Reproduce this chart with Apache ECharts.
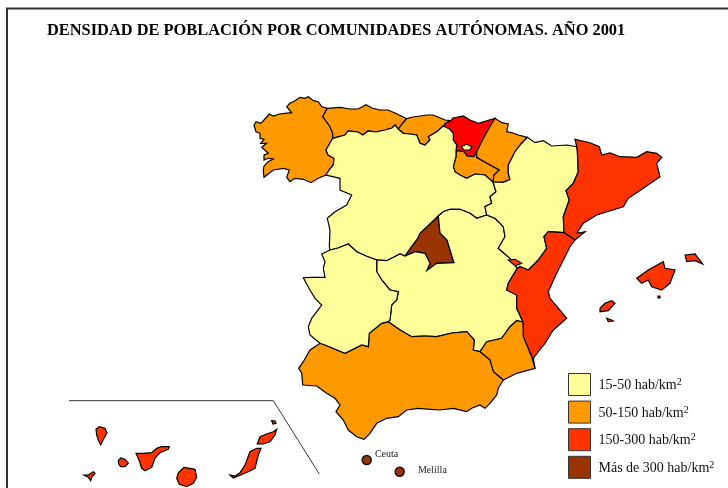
<!DOCTYPE html>
<html>
<head>
<meta charset="utf-8">
<title>Densidad de población</title>
<style>
html, body { margin: 0; padding: 0; background: #fff; }
#chart { width: 728px; height: 488px; }
</style>
<script src="https://cdn.jsdelivr.net/npm/echarts@6/dist/echarts.min.js"></script>
</head>
<body>
<div id="chart"></div>
<script>
// densidad 2001 por comunidad (hab/km2), leida por clase del mapa
var regionNames = ['Galicia', 'Asturias', 'Cantabria', 'País Vasco', 'La Rioja', 'Navarra', 'Castilla y León', 'Madrid',
  'Castilla-La Mancha', 'Aragón', 'Cataluña', 'C. Valenciana', 'Murcia', 'Andalucía', 'Extremadura', 'Baleares', 'Canarias']
var regionDensity = [92, 100, 100, 286, 55, 53, 26, 680, 22, 25, 197, 178, 105, 84, 26, 168, 233]
var classLabels = ['15-50 hab/km', '50-150 hab/km', '150-300 hab/km', 'Más de 300 hab/km']
var classColors = ['#ffff99', '#ff9900', '#ff3300', '#993300']
var cityNames = ['Ceuta', 'Melilla']
var cityPoints = [[366.7, 460, 3400], [399.7, 471.7, 5000]]
var insetLine = [[69, 400.7], [273.3, 400.7], [319.3, 474]]

// contornos en coordenadas del mapa, fronteras compartidas entre comunidades
var galCoast = [[264,177.3],[263.3,170],[264,166],[268.3,161.7],[273.3,159],[268.3,158.3],[264,160],[264,155],[268.3,153.3],[261.7,147.3],[266.7,143.3],[260.7,143.3],[264,139.3],[260,138.3],[260,133.3],[256,131.7],[254,125],[256,121.7],[260.7,123.3],[264,120],[269.3,114],[273.3,116],[279.3,114],[285,113.3],[291.7,112.7],[286.7,106.7],[290,103.3],[295,100.7],[300,97.3],[305,98.3],[308.3,96.7],[313.3,100.7],[318.3,101.7],[321.7,106.7],[327.3,108.3]]
var bGalAst = [[327.3,108.3],[322.7,116.7],[326,121],[330,126.7],[332.7,133.3],[332.7,138.3]]
var bGalCyl = [[332.7,138.3],[326,150],[328,155],[334,158.3],[333.3,165],[329,170],[326,175]]
var galSouth = [[326,175],[318.3,178.3],[311,182.7],[303.3,179.3],[295,178.3],[290,181.7],[286.7,177.3],[289.3,170],[283.3,168.3],[273.3,170],[264,177.3]]
var astCoast = [[327.3,108.3],[340,107.3],[350,109],[358,109],[362,107],[366,104.7],[372,108],[380,110],[388,110],[395,113],[406.7,118.7]]
var bAstCan = [[406.7,118.7],[403,123],[398.3,129]]
var bAstCyl = [[332.7,138.3],[345,135],[348,131],[358,132],[363,135],[368,131],[376,132],[385,130],[392,128],[395,125],[398.3,129]]
var canCoast = [[406.7,118.7],[413,117],[420,116],[427,115],[433,115],[438,117],[445,120],[450.7,120.7]]
var bCanPv = [[450.7,120.7],[446,123],[443.3,126]]
var bCanCyl = [[443.3,126],[436.7,131.7],[428.3,136.7],[430,140],[425,145],[420,143.3],[416.7,135],[410,134],[403.3,133.3],[398.3,129]]
var pvCoast = [[450.7,120.7],[453,118],[458,117],[463.3,116],[470,120],[478.3,123.3],[486,121],[495,118.3]]
var bPvNav = [[495,118.3],[488,130],[481.7,141.7],[476.7,151.7]]
var bPvRio = [[476.7,151.7],[474,156.7],[467,156],[464,151.7],[456,150.7]]
var bPvCyl = [[456,150.7],[456.7,145],[453.3,140],[453.3,133.3],[450,129.3],[443.3,126]]
var bNavRio = [[476.7,151.7],[476.7,157.3],[487,163.3],[499.3,170],[494,175],[493,182]]
var bRioCyl = [[493,182],[485,175],[475,174],[466.7,178.3],[460,175],[455,171.7],[453.3,166.7],[456,156.7],[456,150.7]]
var navCoast = [[495,118.3],[501.7,122.7],[508.3,124],[506.7,131.7],[513,133],[518.3,135],[527.3,137.3]]
var bNavAra = [[527.3,137.3],[521,144],[515,151.7],[508.3,165],[508.3,173.3],[510,179.3],[503.3,182.3],[493,182]]
var bCylAra = [[493,182],[496,191.7],[490,196.7],[491.7,203.3],[485,206.7],[486.7,215]]
var bCylCla1 = [[486.7,215],[476.7,218.3],[470,213.3],[460,209.3],[450,209.3],[443.3,211.7],[438.3,216]]
var bCylMad = [[438.3,216],[428,226],[420,233.3],[418,238.3],[411.7,246.7],[405,256]]
var bMadCla = [[438.3,216],[440,233],[447,240],[450,250],[454,262.7],[436.7,263.3],[426.7,270.7],[430,263.3],[425,253.3],[415,251.7],[405,256]]
var bCylCla2 = [[405,256],[400,254],[386.7,260.7],[376.7,260]]
var bCylExt = [[376.7,260],[366,256],[356.7,251.7],[348.3,244],[338,248],[330,250]]
var cylWest = [[330,250],[329.3,246.7],[330,230],[327.3,218.3],[335,211.7],[346.7,205],[351.7,195],[340,190],[340,178.3],[326,175]]
var bExtCla = [[376.7,260],[376.7,271.7],[381.7,280],[390,290],[398.3,291.7],[396.7,300],[391.7,305],[390,320],[388.3,321.7]]
var bAndCla = [[388.3,321.7],[400,330],[411.7,336.7],[425,336],[436.7,336.7],[452,333],[466.7,331.7],[474.3,340],[473.3,350],[480,351.7]]
var bMurCla = [[523,322],[516.7,320.7],[510,326.7],[501.7,338.3],[486.7,341.7],[480,351.7]]
var bValCla = [[523,322],[516.7,308.3],[516.7,295],[506.7,290],[508.3,283.3],[517.3,268.3]]
var bAraCla = [[486.7,215],[495,218.3],[503.3,226.7],[505,236.7],[498.3,248.3],[510,258.3],[517.3,268.3]]
var bAraNorth = [[527.3,137.3],[535,142.7],[543.3,140.7],[551.7,146],[566.7,145],[576.7,146.7]]
var bAraCat = [[576.7,146.7],[577.3,150],[578.3,171.7],[573.3,183.3],[566,190.7],[569.3,200],[563.3,216.7],[564,232.7]]
var bAraVal = [[564,232.7],[548.3,231.7],[544,236.7],[546.7,248.3],[538.3,260],[528.3,270],[520,266.7],[517.3,268.3]]
var catCoast = [[576.7,146.7],[575,139.3],[590,142.7],[599.3,146.7],[601.7,155],[610,153],[620,156.7],[636.7,157.3],[646.7,151.7],[656.7,153.3],[661.7,157.3],[656.7,163.3],[660,176.7],[643.3,188.3],[628.3,198.3],[623.3,206.7],[596.7,215],[583.3,223.3],[576.7,233.3],[585,231.7],[575,240]]
var bCatVal = [[575,240],[564,232.7]]
var valCoast = [[575,240],[570,246.7],[556.7,273.3],[548.3,291.7],[550,298.3],[566.7,318.3],[553.3,330],[545,343.3],[538.3,351.7],[533.3,358.3],[535,368.3]]
var bValMur = [[523,322],[523.3,336.7],[531.7,356.7],[535,368.3]]
var murCoast = [[535,368.3],[516.7,373.3],[503.3,380]]
var bAndMur = [[480,351.7],[490,360],[493.3,371.7],[503.3,380]]
var andCoast = [[503.3,380],[498.3,388.3],[496.7,395],[490,403.3],[485,408.3],[480,405],[471.7,408.3],[466.7,411.7],[453.3,408.3],[440,410],[430,409.3],[418.3,408.3],[406.7,410],[398.3,416.7],[386.7,418.3],[376.7,423.3],[373.3,428.3],[370,433.3],[364,439.3],[356.7,436.7],[348.3,430],[343.3,420],[336,411.7],[340,405],[335,398.3],[326.7,393.3],[316.7,386],[302.7,385],[301.7,373.3],[298.7,368.3],[303.3,361.7],[310,350],[320,343.3]]
var bExtAnd = [[320,343.3],[325,345],[345,353.3],[361.7,345],[368.3,346.7],[369.3,333.3],[381.7,323.3],[388.3,321.7]]
var extWest = [[320,343.3],[310,335],[308.3,326.7],[311.7,318.3],[321.7,305],[315,298.3],[310,290],[303.3,277.7],[311.7,277.3],[325,277.3],[323.3,268.3],[325,261.7],[321.7,254],[330,250]]

var orduna = [[447.3,140],[450,138.5],[453.3,141],[450,143]]
var trevino = [[461,146.7],[466.7,144.3],[471.7,146.7],[470,150],[464,150]]
var bardenas = [[516,157],[519,155.5],[520,158],[517,160]]
var ademuz = [[508.3,260],[515,259.3],[521.7,263.3],[515,265.7]]
var mallorca = [[636.7,278.3],[648.3,270],[663.3,261.7],[665,268.3],[675,270],[670,283.3],[661.7,290],[651.7,286.7],[648.3,280],[641.7,283.3]]
var menorca = [[685,255],[695,254],[702.7,264],[695,260.7],[686.7,261.7]]
var ibiza = [[600,308.3],[605,303.3],[611.7,300.7],[615,303.3],[608.3,310.7],[600,311.7]]
var formentera = [[606.7,318.3],[611.7,320],[613.3,321],[608.3,321.7]]
var cabrera = [[658,296],[660,296],[660,298],[658,298]]
var laPalma = [[96,429.3],[99.3,426.7],[105,428.3],[107,432.7],[104,438.3],[100.7,445],[98.3,440],[96.7,435]]
var elHierro = [[84,475],[88.3,475],[93.3,471.7],[95,473.3],[91.7,477.3],[90.7,480.7],[88.3,477.3]]
var laGomera = [[118.3,460.7],[120.7,458],[125,459.3],[128.3,463.3],[125,466.7],[120.7,466.7],[118.7,464]]
var tenerife = [[136,453.3],[143.3,453.3],[151.7,452.7],[156.7,448.3],[161.7,446.7],[169.3,446.7],[168.3,449.3],[160,452.7],[155,458.3],[151.7,467.3],[145,470.7],[141.7,468.3],[139.3,460.7]]
var granCanaria = [[176.7,478.3],[178.3,472.7],[184,467.3],[195,469.3],[196.7,477.3],[193.3,483.3],[186.7,486.7],[179.3,484.3]]
var fuerteventura = [[230,475],[235,476],[240,472.7],[245,465],[250,451.7],[256.7,448.3],[261,448.3],[258.3,455],[255,468.3],[248.3,471.7],[238.3,476],[233.3,478]]
var lanzarote = [[257.3,444],[260,436.7],[266.7,434],[273.3,431.7],[276.7,429.3],[275,435],[270,441.7],[263.3,444]]
var graciosa = [[271.7,420.7],[275,421],[276,423.3],[273,424]]

function rev (a) {
  return a.slice().reverse()
}
// une tramos en un anillo cerrado y pasa a lat = -y
function ring () {
  var pts = []
  for (var i = 0; i < arguments.length; i++) {
    pts = pts.concat(arguments[i])
  }
  pts.push(pts[0])
  return pts.map(function (p) { return [p[0], -p[1]] })
}

var regionRings = {
  'Galicia': [ring(galCoast, bGalAst, bGalCyl, galSouth)],
  'Asturias': [ring(astCoast, bAstCan, rev(bAstCyl), rev(bGalAst))],
  'Cantabria': [ring(canCoast, bCanPv, bCanCyl, rev(bAstCan))],
  'País Vasco': [ring(rev(bCanPv), pvCoast, bPvNav, bPvRio, bPvCyl), ring(orduna)],
  'La Rioja': [ring(rev(bPvRio), bNavRio, bRioCyl)],
  'Navarra': [ring(rev(bPvNav), navCoast, bNavAra, rev(bNavRio)), ring(bardenas)],
  'Castilla y León': [ring(rev(bGalCyl), bAstCyl, rev(bCanCyl), rev(bPvCyl), rev(bRioCyl), bCylAra, bCylCla1, bCylMad, bCylCla2, bCylExt, cylWest), ring(trevino)],
  'Madrid': [ring(rev(bCylMad), bMadCla)],
  'Castilla-La Mancha': [ring(bCylCla1, bMadCla, bCylCla2, bExtCla, bAndCla, rev(bMurCla), bValCla, rev(bAraCla))],
  'Aragón': [ring(bAraNorth, bAraCat, bAraVal, rev(bAraCla), rev(bCylAra), rev(bNavAra))],
  'Cataluña': [ring(catCoast, bCatVal, rev(bAraCat))],
  'C. Valenciana': [ring(rev(bCatVal), valCoast, rev(bValMur), bValCla, rev(bAraVal)), ring(ademuz)],
  'Murcia': [ring(bValMur, murCoast, rev(bAndMur), rev(bMurCla))],
  'Andalucía': [ring(bAndCla, bAndMur, andCoast, bExtAnd)],
  'Extremadura': [ring(bExtCla, rev(bExtAnd), extWest, rev(bCylExt))],
  'Baleares': [ring(mallorca), ring(menorca), ring(ibiza), ring(formentera), ring(cabrera)],
  'Canarias': [ring(laPalma), ring(elHierro), ring(laGomera), ring(tenerife), ring(granCanaria), ring(fuerteventura), ring(lanzarote), ring(graciosa)]
}

var geoJson = {
  type: 'FeatureCollection',
  features: regionNames.map(function (name) {
    return {
      type: 'Feature',
      properties: { name: name },
      geometry: {
        type: 'MultiPolygon',
        coordinates: regionRings[name].map(function (r) { return [r] })
      }
    }
  })
}
echarts.registerMap('espana', geoJson)

var chart = echarts.init(document.getElementById('chart'))
var serif = '"Liberation Serif", "Times New Roman", serif'

var series = [{
  type: 'map',
  geoIndex: 0,
  silent: true,
  data: regionNames.map(function (name, i) {
    return { name: name, value: regionDensity[i] }
  })
}, {
  type: 'lines',
  coordinateSystem: 'geo',
  polyline: true,
  silent: true,
  lineStyle: { color: '#333', width: 1, opacity: 1 },
  data: [{ coords: insetLine.map(function (p) { return [p[0], -p[1]] }) }]
}, {
  type: 'scatter',
  coordinateSystem: 'geo',
  silent: true,
  symbolSize: 9,
  itemStyle: { color: classColors[3], borderColor: '#111', borderWidth: 1.5, opacity: 1 },
  label: {
    show: true,
    position: 'right',
    fontFamily: serif,
    fontSize: 10,
    color: '#222',
    formatter: function (p) { return p.name }
  },
  labelLayout: function (params) {
    return params.dataIndex === 0
      ? { dx: -2, dy: -6 }
      : { dx: 8, dy: -1 }
  },
  data: cityNames.map(function (name, i) {
    return { name: name, value: [cityPoints[i][0], -cityPoints[i][1], cityPoints[i][2]] }
  })
}]
// series vacias: solo alimentan la leyenda
classLabels.forEach(function (label, i) {
  series.push({
    type: 'scatter',
    coordinateSystem: 'geo',
    name: label,
    itemStyle: { color: classColors[i], opacity: 1 },
    data: []
  })
})

chart.setOption({
  animation: false,
  title: {
    text: 'DENSIDAD DE POBLACIÓN POR COMUNIDADES AUTÓNOMAS. AÑO 2001',
    left: 47,
    top: 23,
    padding: 0,
    textStyle: { fontFamily: serif, fontWeight: 'bold', fontSize: 16.4, color: '#000' }
  },
  geo: {
    map: 'espana',
    roam: false,
    silent: true,
    aspectScale: 1,
    boundingCoords: [[0, 0], [728, -488]],
    left: 0,
    top: 0,
    width: 728,
    height: 488,
    label: { show: false },
    itemStyle: { areaColor: '#fff', borderColor: '#000', borderWidth: 1.2 },
    emphasis: { disabled: true },
    select: { disabled: true }
  },
  visualMap: {
    show: false,
    type: 'piecewise',
    seriesIndex: 0,
    pieces: [
      { gte: 15, lt: 50, color: classColors[0] },
      { gte: 50, lt: 150, color: classColors[1] },
      { gte: 150, lt: 250, color: classColors[2] },
      { gte: 250, lt: 300, color: '#ff0000' },
      { gte: 300, color: classColors[3] }
    ]
  },
  legend: {
    orient: 'vertical',
    left: 568,
    top: 373,
    padding: 0,
    itemWidth: 22,
    itemHeight: 22,
    itemGap: 4.6,
    icon: 'rect',
    selectedMode: false,
    data: classLabels,
    itemStyle: { borderColor: '#333', borderWidth: 1, opacity: 1 },
    formatter: function (name) {
      return '{t|' + name + '}{s|2}'
    },
    textStyle: {
      rich: {
        t: { fontFamily: serif, fontSize: 14, color: '#111', padding: [2, 0, 0, 3] },
        s: { fontFamily: serif, fontSize: 10, color: '#111', padding: [0, 0, 4, 0] }
      }
    }
  },
  graphic: [{
    type: 'polyline',
    silent: true,
    shape: { points: [[7, 490], [7, 8.5], [730, 8.5]] },
    style: { fill: null, stroke: '#333', lineWidth: 2 }
  }],
  series: series
})
</script>
</body>
</html>
